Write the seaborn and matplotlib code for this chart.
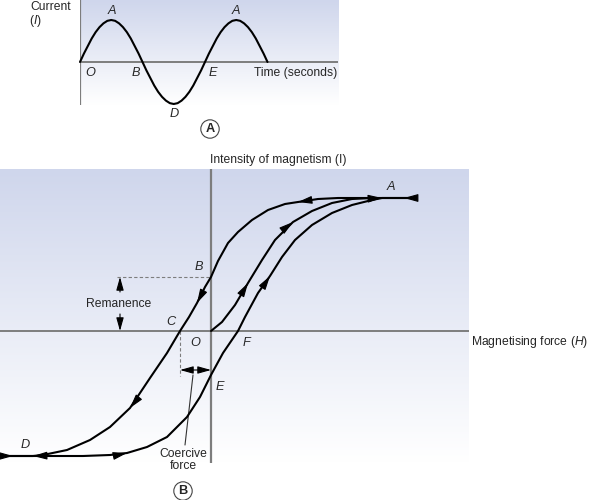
import numpy as np
import pandas as pd
import matplotlib
matplotlib.use("Agg")
import matplotlib.pyplot as plt
from matplotlib.colors import LinearSegmentedColormap
import seaborn as sns

# --- Pannello A: corrente alternata (tempo in quarti di periodo) ---
time_q = [0, 0.125, 0.25, 0.375, 0.5, 0.625, 0.75, 0.875,
          1, 1.125, 1.25, 1.375, 1.5, 1.625, 1.75, 1.875,
          2, 2.125, 2.25, 2.375, 2.5, 2.625, 2.75, 2.875,
          3, 3.125, 3.25, 3.375, 3.5, 3.625, 3.75, 3.875,
          4, 4.125, 4.25, 4.375, 4.5, 4.625, 4.75, 4.875,
          5, 5.125, 5.25, 5.375, 5.5, 5.625, 5.75, 5.875, 6]
current = [0, 0.20, 0.38, 0.56, 0.71, 0.83, 0.92, 0.98,
           1.0, 0.98, 0.92, 0.83, 0.71, 0.56, 0.38, 0.20,
           0, -0.20, -0.38, -0.56, -0.71, -0.83, -0.92, -0.98,
           -1.0, -0.98, -0.92, -0.83, -0.71, -0.56, -0.38, -0.20,
           0, 0.20, 0.38, 0.56, 0.71, 0.83, 0.92, 0.98,
           1.0, 0.98, 0.92, 0.83, 0.71, 0.56, 0.38, 0.20, 0]
wave_labels = ["O", "A", "B", "D", "E", "A"]
wave_label_t = [0.32, 1.02, 1.79, 3.0, 4.26, 5.0]
wave_label_i = [-0.26, 1.21, -0.26, -1.24, -0.26, 1.21]

# --- Pannello B: ciclo di isteresi (H, I) ---
desc_H = [2.01, 1.93, 1.69, 1.51, 1.27, 1.07, 0.87, 0.74, 0.57, 0.41, 0.27, 0.17, 0.07,
          0.0, -0.06, -0.14, -0.22, -0.31, -0.44, -0.61, -0.81, -1.01, -1.21, -1.44,
          -1.68, -1.78, -2.06]
desc_I = [1.33, 1.33, 1.33, 1.33, 1.33, 1.32, 1.29, 1.27, 1.21, 1.11, 0.99, 0.88, 0.70,
          0.54, 0.44, 0.28, 0.14, 0.0, -0.22, -0.47, -0.77, -0.96, -1.09, -1.19,
          -1.24, -1.25, -1.25]
asc_H = [-2.06, -1.98, -1.68, -1.28, -1.01, -0.84, -0.64, -0.44, -0.24, -0.11, 0.0,
         0.12, 0.27, 0.34, 0.47, 0.59, 0.71, 0.84, 1.01, 1.21, 1.41, 1.61, 1.71, 2.01]
asc_I = [-1.25, -1.25, -1.25, -1.25, -1.24, -1.22, -1.16, -1.06, -0.86, -0.66, -0.44,
         -0.22, 0.0, 0.14, 0.38, 0.55, 0.74, 0.91, 1.06, 1.18, 1.26, 1.31, 1.33, 1.33]
init_H = [0.0, 0.11, 0.24, 0.37, 0.51, 0.64, 0.82, 1.01, 1.21, 1.41, 1.61]
init_I = [0.0, 0.09, 0.26, 0.48, 0.71, 0.91, 1.09, 1.20, 1.28, 1.32, 1.33]
remanence = 0.54
coercive = -0.31

loop_labels = ["A", "B", "C", "O", "F", "E", "D"]
loop_label_H = [1.80, -0.12, -0.40, -0.16, 0.35, 0.09, -1.86]
loop_label_I = [1.44, 0.64, 0.09, -0.12, -0.12, -0.56, -1.14]

sns.set_style("white")
plt.rcParams['font.family'] = ['Liberation Sans', 'DejaVu Sans']
plt.rcParams['mathtext.fontset'] = 'custom'
plt.rcParams['mathtext.it'] = 'Liberation Sans:italic'
plt.rcParams['mathtext.rm'] = 'Liberation Sans'

W, H = 589, 500
FS = 8.7
AX_COL = '#7d7d7d'
fig = plt.figure(figsize=(W / 100, H / 100), dpi=100)
shade = LinearSegmentedColormap.from_list('shade', ['#cfd6ec', '#ffffff'])
grad = np.linspace(0, 1, 256).reshape(-1, 1)
HEAD = '-|>,head_length=1.0,head_width=0.28'


def px_axes(left, top, right, bottom):
    return fig.add_axes([left / W, 1 - bottom / H, (right - left) / W, (bottom - top) / H])


def heads(ax, hs, vs, idxs):
    for i in idxs:
        dh, dv = hs[i + 1] - hs[i - 1], vs[i + 1] - vs[i - 1]
        ax.annotate('', xy=(hs[i], vs[i]), xytext=(hs[i] - 0.15 * dh, vs[i] - 0.15 * dv),
                    arrowprops=dict(arrowstyle=HEAD, color='black', lw=0.8,
                                    mutation_scale=8.5, shrinkA=0, shrinkB=0))


# ---------------- Pannello A ----------------
axA = px_axes(80, 0, 338, 105)
axA.set_xlim(0, 8.256)
axA.set_ylim(-1.024, 1.476)
axA.imshow(grad, extent=[0, 8.256, -1.024, 1.476], aspect='auto', cmap=shade, zorder=0)
axA.axhline(0, color=AX_COL, lw=1.4, zorder=1)
axA.axvline(0, color=AX_COL, lw=1.6, zorder=1)
df_wave = pd.DataFrame({'t': time_q, 'i': current})
sns.lineplot(data=df_wave, x='t', y='i', sort=False, estimator=None, color='black',
             lw=1.5, ax=axA, zorder=3, clip_on=False)
for lab, t, i in zip(wave_labels, wave_label_t, wave_label_i):
    axA.text(t, i, lab, fontsize=FS + 0.5, style='italic', ha='center', va='center', clip_on=False)
axA.text(5.57, -0.26, "Time (seconds)", fontsize=FS, ha='left', va='center', clip_on=False)
axA.axis('off')

fig.text(51 / W, 1 - 10.5 / H, "Current", fontsize=FS, ha='center', va='baseline')
fig.text(35 / W, 1 - 24 / H, r"($I$)", fontsize=FS, ha='center', va='baseline')
fig.text(210 / W, 1 - 129 / H, "A", fontsize=FS + 0.5, fontweight='bold', ha='center', va='center',
         bbox=dict(boxstyle='circle,pad=0.25', fc='white', ec='#444444', lw=0.8))

# ---------------- Pannello B ----------------
axB = px_axes(0, 169, 469, 463)
xl, yl = (-2.11, 2.58), (-1.32, 1.62)
axB.set_xlim(*xl)
axB.set_ylim(*yl)
axB.imshow(grad, extent=[xl[0], xl[1], yl[0], yl[1]], aspect='auto', cmap=shade, zorder=0)
axB.axhline(0, color=AX_COL, lw=1.4, zorder=1)
axB.axvline(0, color=AX_COL, lw=1.6, zorder=1)

for hs, vs in [(desc_H, desc_I), (asc_H, asc_I), (init_H, init_I)]:
    sns.lineplot(x=hs, y=vs, sort=False, estimator=None, color='black', lw=1.5,
                 ax=axB, zorder=3, clip_on=False)
heads(axB, desc_H, desc_I, [1, 6, 15, 20, 25])
heads(axB, asc_H, asc_I, [1, 5, 15, 22])
heads(axB, init_H, init_I, [3, 6])

# remanenza
axB.plot([-0.94, 0], [remanence, remanence], color=AX_COL, lw=0.8, ls=(0, (3, 2)), zorder=2)
arr = dict(arrowstyle=HEAD, color='black', lw=0.8, mutation_scale=8, shrinkA=0, shrinkB=0)
axB.annotate('', xy=(-0.91, remanence), xytext=(-0.91, remanence - 0.15), arrowprops=arr)
axB.annotate('', xy=(-0.91, 0), xytext=(-0.91, 0.17), arrowprops=arr)
axB.text(-0.92, remanence / 2, "Remanence", fontsize=FS, ha='center', va='center')

# forza coercitiva
axB.plot([coercive, coercive], [0, -0.45], color=AX_COL, lw=0.8, ls=(0, (3, 2)), zorder=2)
arr2 = dict(arr, arrowstyle='<|-|>,head_length=1.0,head_width=0.28')
axB.annotate('', xy=(0, -0.39), xytext=(coercive, -0.39), arrowprops=arr2)
axB.plot([-0.18, -0.26], [-0.44, -1.14], color='#333333', lw=0.8, zorder=2, clip_on=False)
axB.text(-0.28, -1.29, "Coercive\nforce", fontsize=FS, ha='center', va='center',
         linespacing=1.05, clip_on=False)

for lab, h, i in zip(loop_labels, loop_label_H, loop_label_I):
    axB.text(h, i, lab, fontsize=FS + 0.5, style='italic', ha='center', va='center', clip_on=False)
axB.axis('off')

fig.text(278 / W, 1 - 160 / H, "Intensity of magnetism (I)", fontsize=FS, ha='center', va='center')
fig.text(588 / W, 1 - 342 / H, r"Magnetising force ($H$)", fontsize=FS, ha='right', va='center')
fig.text(183 / W, 1 - 491 / H, "B", fontsize=FS + 0.5, fontweight='bold', ha='center', va='center',
         bbox=dict(boxstyle='circle,pad=0.25', fc='white', ec='#444444', lw=0.8))

fig.savefig("out.png", dpi=100)
